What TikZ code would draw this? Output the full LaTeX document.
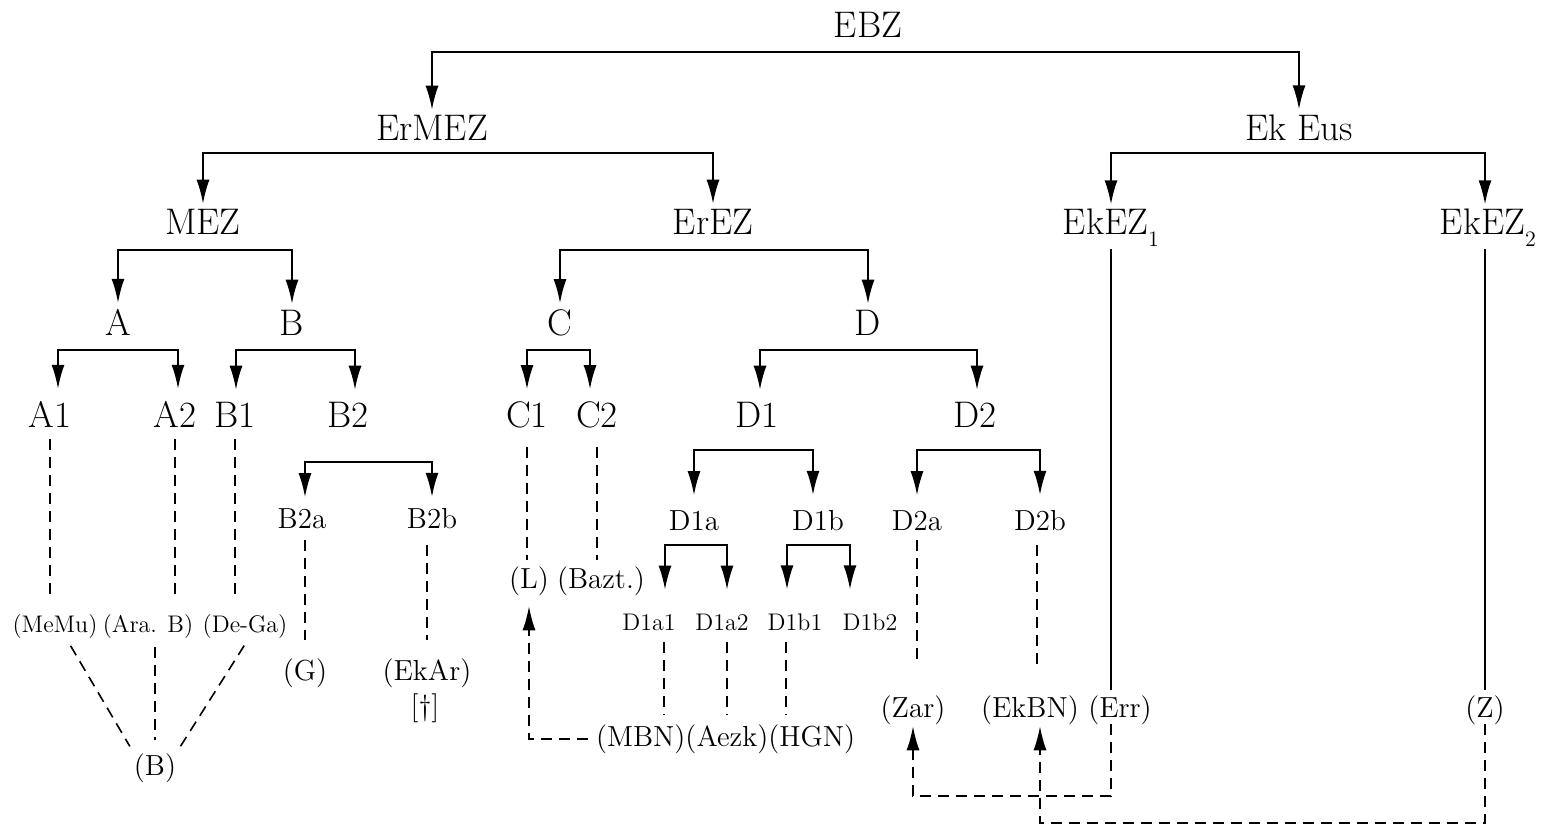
\documentclass[tikz,border=0pt]{standalone}
\usepackage{fontspec}
\usetikzlibrary{arrows.meta,calc}
\newcommand\subx[1]{\raisebox{-6pt}{\fontsize{11}{11}\selectfont #1}}
\tikzset{
  lab/.style={inner sep=0pt, outer sep=0pt, anchor=base},
  big/.style={lab, font=\fontsize{18.5}{20}\selectfont},
  mid/.style={lab, font=\fontsize{14.5}{16}\selectfont},
  small/.style={lab, font=\fontsize{12}{14}\selectfont},
  tip/.tip={Latex[length=12pt,width=6.5pt]},
  fork/.style={line width=0.9pt, tip-tip},
  solidln/.style={line width=0.9pt},
  dsh/.style={line width=0.8pt, dash pattern=on 5.5pt off 3.5pt},
  darr/.style={dsh, -tip},
}
\begin{document}
\begin{tikzpicture}[x=0.5pt,y=-0.5pt]
\useasboundingbox (0,0) rectangle (1549,825);
% level 0-2
\node[big] (EBZ) at (868,37) {EBZ};
\node[big] (ErMEZ) at (432,140) {ErMEZ};
\node[big] (EkEus) at (1299,140) {Ek Eus};
\node[big] (MEZ) at (203,234) {MEZ};
\node[big] (ErEZ) at (713,234) {ErEZ};
\node[big] (EkEZa) at (1111,234) {EkEZ\subx{1}};
\node[big] (EkEZb) at (1488,234) {EkEZ\subx{2}};
% level 3
\node[big] (A) at (118,335) {A};
\node[big] (B) at (292,335) {B};
\node[big] (C) at (560,335) {C};
\node[big] (D) at (868,335) {D};
% level 4
\node[big] (A1) at (50,427) {A1};
\node[big] (A2) at (175,427) {A2};
\node[big] (B1) at (235,427) {B1};
\node[big] (B2) at (348,427) {B2};
\node[big] (C1) at (527,427) {C1};
\node[big] (C2) at (597,427) {C2};
\node[big] (D1) at (757,427) {D1};
\node[big] (D2) at (975,427) {D2};
% level 5
\node[mid] (B2a) at (302,528) {B2a};
\node[mid] (B2b) at (432,528) {B2b};
\node[mid] (D1a) at (694,530) {D1a};
\node[mid] (D1b) at (818,530) {D1b};
\node[mid] (D2a) at (917,530) {D2a};
\node[mid] (D2b) at (1040,530) {D2b};
\node[mid] (nL) at (529,588) {(L)};
\node[mid] (Bazt) at (601,588) {(Bazt.)};
% level 6
\node[small] (D1a1) at (649,630) {D1a1};
\node[small] (D1a2) at (722,630) {D1a2};
\node[small] (D1b1) at (795,630) {D1b1};
\node[small] (D1b2) at (870,630) {D1b2};
\node[small] (MeMu) at (55,632) {(MeMu)};
\node[small] (AraB) at (148,632) {(Ara. B)};
\node[small] (DeGa) at (245,632) {(De-Ga)};
% lower
\node[mid] (G) at (305,680) {(G)};
\node[mid] (EkAr) at (427,680) {(EkAr)};
\node[mid] (dag) at (425,715) {[\textdagger]};
\node[mid] (Bp) at (155,775) {(B)};
\node[mid,anchor=base west] (MBN) at (596,746) {(MBN)};
\node[mid,anchor=base west] (Aezk) at (MBN.base east) {(Aezk)};
\node[mid,anchor=base west] (HGN) at (Aezk.base east) {(HGN)};
\node[mid] (Zar) at (913,717) {(Zar)};
\node[mid] (EkBN) at (1030,717) {(EkBN)};
\node[mid] (Err) at (1120,717) {(Err)};
\node[mid] (Z) at (1485,717) {(Z)};
% forks
\draw[fork,shorten <=2.5pt,shorten >=2.5pt] (ErMEZ.north) |- ($(EBZ.base)+(0,15)$) -| (EkEus.north);
\draw[fork,shorten <=2.5pt,shorten >=2.5pt] (MEZ.north) |- ($(ErMEZ.base)+(0,13)$) -| (ErEZ.north);
\draw[fork,shorten <=2pt,shorten >=2pt] (EkEZa.north) |- ($(EkEus.base)+(0,13)$) -| ([xshift=-1.5pt]EkEZb.north);
\draw[fork,shorten <=3pt,shorten >=3pt] (A.north) |- ($(MEZ.base)+(0,16)$) -| (B.north);
\draw[fork,shorten <=3pt,shorten >=3pt] (C.north) |- ($(ErEZ.base)+(0,16)$) -| (D.north);
\draw[fork,shorten <=6pt,shorten >=6pt] ([xshift=4pt]A1.north) |- ($(A.base)+(0,15)$) -| ([xshift=1.5pt]A2.north);
\draw[fork,shorten <=6pt,shorten >=6pt] ([xshift=0.5pt]B1.north) |- ($(B.base)+(0,15)$) -| ([xshift=3.5pt]B2.north);
\draw[fork,shorten <=6pt,shorten >=6pt] (C1.north) |- ($(C.base)+(0,15)$) -| ([xshift=-3.5pt]C2.north);
\draw[fork,shorten <=6pt,shorten >=6pt] ([xshift=1.5pt]D1.north) |- ($(D.base)+(0,15)$) -| ([xshift=1pt]D2.north);
\draw[fork,shorten <=5.5pt,shorten >=5.5pt] ([xshift=1.5pt]B2a.north) |- ($(B2.base)+(0,35)$) -| (B2b.north);
\draw[fork,shorten <=7.5pt,shorten >=7.5pt] (D1a.north) |- ($(D1.base)+(0,23)$) -| ([xshift=-2.5pt]D1b.north);
\draw[fork,shorten <=7.5pt,shorten >=7.5pt] (D2a.north) |- ($(D2.base)+(0,23)$) -| (D2b.north);
\draw[fork,shorten <=12pt,shorten >=12pt] ([xshift=8pt]D1a1.north) |- ($(D1a.base)+(0,15)$) -| ([xshift=2.5pt]D1a2.north);
\draw[fork,shorten <=12pt,shorten >=12pt] ([xshift=-4pt]D1b1.north) |- ($(D1b.base)+(0,15)$) -| ([xshift=-10pt]D1b2.north);
% dashed links
\draw[dsh,shorten <=6pt,shorten >=7pt] (A1.south) -- (A1.south |- MeMu.north);
\draw[dsh,shorten <=6pt,shorten >=7pt] (A2.south) -- (A2.south |- AraB.north);
\draw[dsh,shorten <=6pt,shorten >=7pt] (B1.south) -- (B1.south |- DeGa.north);
\draw[dsh,shorten <=6pt,shorten >=9pt] (G.north |- B2a.south) -- (G.north);
\draw[dsh,shorten <=8.5pt,shorten >=9pt] (EkAr.north |- B2b.south) -- (EkAr.north);
\draw[dsh,shorten <=9.5pt,shorten >=3pt] (C1.south) -- (C1.south |- nL.north);
\draw[dsh,shorten <=9.5pt,shorten >=3pt] (C2.south) -- (C2.south |- Bazt.north);
\draw[dsh,shorten <=6pt,shorten >=4.5pt] ([xshift=7.5pt]D1a1.south) -- ([xshift=7.5pt]D1a1.south |- MBN.north);
\draw[dsh,shorten <=6pt,shorten >=4.5pt] ([xshift=2.5pt]D1a2.south) -- ([xshift=2.5pt]D1a2.south |- Aezk.north);
\draw[dsh,shorten <=6pt,shorten >=4.5pt] ([xshift=-4.5pt]D1b1.south) -- ([xshift=-4.5pt]D1b1.south |- HGN.north);
\draw[dsh,shorten <=5pt,shorten >=15pt] (D2a.south) -- (D2a.south |- Zar.north);
\draw[dsh,shorten <=7.5pt,shorten >=15pt] ([xshift=-1.5pt]D2b.south) -- ([xshift=-1.5pt]D2b.south |- EkBN.north);
\draw[dsh,shorten <=4.5pt,shorten >=6.5pt] (Bp.north |- AraB.south) -- (Bp.north);
\draw[dsh,shorten <=4.5pt,shorten >=4pt] ([xshift=5.5pt]MeMu.south) -- (Bp.north west);
\draw[dsh,shorten <=4.5pt,shorten >=4pt] ([xshift=2pt]DeGa.south) -- (Bp.north east);
% dashed arrows
\draw[darr,shorten <=4pt,shorten >=5.5pt] (MBN.west) -| (nL.south);
\draw[darr,shorten >=1pt] (EkEZa.south |- Err.south) -- ++(0,72) -| (Zar.south);
\draw[darr,shorten >=1pt] (Z.south) -- ++(0,99) -| ([xshift=5pt]EkBN.south);
% solid lines
\draw[solidln,shorten <=1.5pt,shorten >=2.5pt] (EkEZa.south) -- (EkEZa.south |- Err.north);
\draw[solidln,shorten <=1.5pt,shorten >=2.5pt] (Z.north |- EkEZb.south) -- (Z.north);
\end{tikzpicture}
\end{document}
